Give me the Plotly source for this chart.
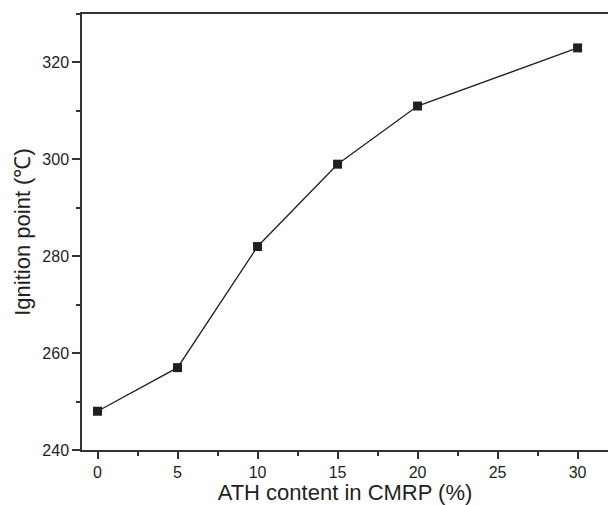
import plotly.graph_objects as go

ath_content = [0, 5, 10, 15, 20, 30]
ignition_point = [248, 257, 282, 299, 311, 323]

x_ticks = [0, 5, 10, 15, 20, 25, 30]
y_ticks = [240, 260, 280, 300, 320]

ink = "#231f20"
axis_col = "#333333"

fig = go.Figure()
fig.add_trace(go.Scatter(
    x=ath_content, y=ignition_point, mode="lines+markers",
    line=dict(color=ink, width=1.3),
    marker=dict(symbol="square", size=9, color=ink),
    showlegend=False,
))

fig.update_layout(
    width=608, height=505,
    margin=dict(l=82, r=0, t=14, b=55),
    plot_bgcolor="white", paper_bgcolor="white",
    font=dict(family="Liberation Sans, Arial, sans-serif", color=ink, size=16),
    xaxis=dict(
        range=[-0.97, 31.9], tickvals=x_ticks, ticks="outside", ticklen=7, tickwidth=1.5,
        tickcolor=axis_col, showline=True, linecolor=axis_col, linewidth=1.5, mirror=True,
        showgrid=False, zeroline=False,
        minor=dict(tickvals=[2.5, 7.5, 12.5, 17.5, 22.5, 27.5], ticks="outside", ticklen=4,
                   tickwidth=1.5, tickcolor=axis_col),
        title=dict(text="ATH content in CMRP (%)", font=dict(size=22), standoff=3),
        tickfont=dict(size=16),
    ),
    yaxis=dict(
        range=[240, 330], tickvals=y_ticks, ticks="outside", ticklen=8, tickwidth=1.5,
        tickcolor=axis_col, showline=True, linecolor=axis_col, linewidth=1.5, mirror=False,
        showgrid=False, zeroline=False,
        minor=dict(tickvals=[250, 270, 290, 310, 330], ticks="outside", ticklen=4,
                   tickwidth=1.5, tickcolor=axis_col),
        title=dict(text="Ignition point (℃)", font=dict(size=22), standoff=6),
        tickfont=dict(size=16),
    ),
)

fig.write_html("out.html")
